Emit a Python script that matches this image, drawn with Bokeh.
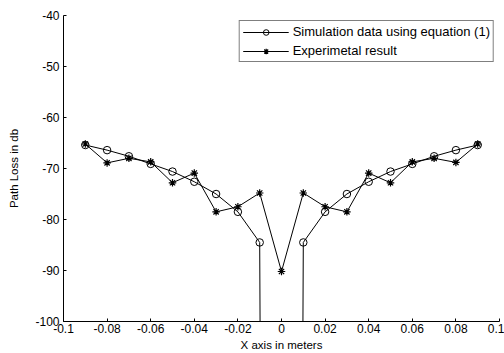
from bokeh.plotting import figure
from bokeh.models import FixedTicker, Range1d
from bokeh.embed import file_html
from bokeh.resources import INLINE

x_m = [-0.09, -0.08, -0.07, -0.06, -0.05, -0.04, -0.03, -0.02, -0.01, 0.0,
       0.01, 0.02, 0.03, 0.04, 0.05, 0.06, 0.07, 0.08, 0.09]
sim_db = [-65.4, -66.4, -67.6, -69.1, -70.6, -72.6, -75.0, -78.5, -84.5, -1000.0,
          -84.5, -78.5, -75.0, -72.6, -70.6, -69.1, -67.6, -66.4, -65.4]
exp_db = [-65.2, -68.9, -68.0, -68.7, -72.8, -70.9, -78.5, -77.5, -74.8, -90.2,
          -74.8, -77.5, -78.5, -70.9, -72.8, -68.7, -68.0, -68.8, -65.2]

x_ticks = [-0.1, -0.08, -0.06, -0.04, -0.02, 0.0, 0.02, 0.04, 0.06, 0.08, 0.1]
x_tick_labels = ["-0.1", "-0.08", "-0.06", "-0.04", "-0.02", "0", "0.02", "0.04", "0.06", "0.08", "0.1"]
y_ticks = [-100, -90, -80, -70, -60, -50, -40]
y_tick_labels = ["-100", "-90", "-80", "-70", "-60", "-50", "-40"]

FONT = "Liberation Sans"

p = figure(width=504, height=353, output_backend="svg", toolbar_location=None,
           x_range=Range1d(-0.1, 0.1), y_range=Range1d(-100, -40),
           min_border_left=63, min_border_top=15, min_border_right=5, min_border_bottom=29)
p.background_fill_color = "white"
p.border_fill_color = "white"
p.outline_line_color = None
p.grid.visible = False

lab_sim = "Simulation data using equation (1)"
lab_exp = "Experimetal result"

p.line(x_m, sim_db, line_color="black", line_width=1, legend_label=lab_sim)
p.scatter(x_m, sim_db, marker="circle", size=7.5, line_color="black", fill_color=None,
          line_width=1, legend_label=lab_sim)
p.line(x_m, exp_db, line_color="black", line_width=1, legend_label=lab_exp)
p.scatter(x_m, exp_db, marker="asterisk", size=7.5, line_color="black", line_width=1.2,
          legend_label=lab_exp)

p.xaxis.ticker = FixedTicker(ticks=x_ticks)
p.xaxis.major_label_overrides = {t: l for t, l in zip(x_ticks, x_tick_labels)}
p.yaxis.ticker = FixedTicker(ticks=y_ticks)
p.yaxis.major_label_overrides = {t: l for t, l in zip(y_ticks, y_tick_labels)}

for ax in (p.xaxis, p.yaxis):
    ax.axis_line_color = "black"
    ax.axis_line_width = 1
    ax.major_tick_in = 3
    ax.major_tick_out = 0
    ax.minor_tick_line_color = None
    ax.major_tick_line_color = "black"
    ax.major_label_text_font = FONT
    ax.major_label_text_font_size = "12px"
    ax.major_label_text_color = "black"
    ax.axis_label_text_font = FONT
    ax.axis_label_text_font_size = "11.5px"
    ax.axis_label_text_font_style = "normal"
    ax.axis_label_text_color = "black"

p.xaxis.axis_label = "X axis in meters"
p.yaxis.axis_label = "Path Loss in db"
p.xaxis.major_label_standoff = 2
p.xaxis.axis_label_standoff = 3
p.yaxis.major_label_standoff = 4
p.yaxis.axis_label_standoff = 12

lg = p.legend[0]
lg.location = "top_right"
lg.margin = 5
lg.padding = 3
lg.spacing = 4
lg.glyph_width = 46
lg.glyph_height = 14
lg.label_height = 14
lg.label_standoff = 4
lg.label_text_font = FONT
lg.label_text_font_size = "13px"
lg.label_text_color = "black"
lg.border_line_color = "black"
lg.border_line_width = 1
lg.background_fill_color = "white"
lg.background_fill_alpha = 1.0

open("out.html", "w").write(file_html(p, INLINE))
